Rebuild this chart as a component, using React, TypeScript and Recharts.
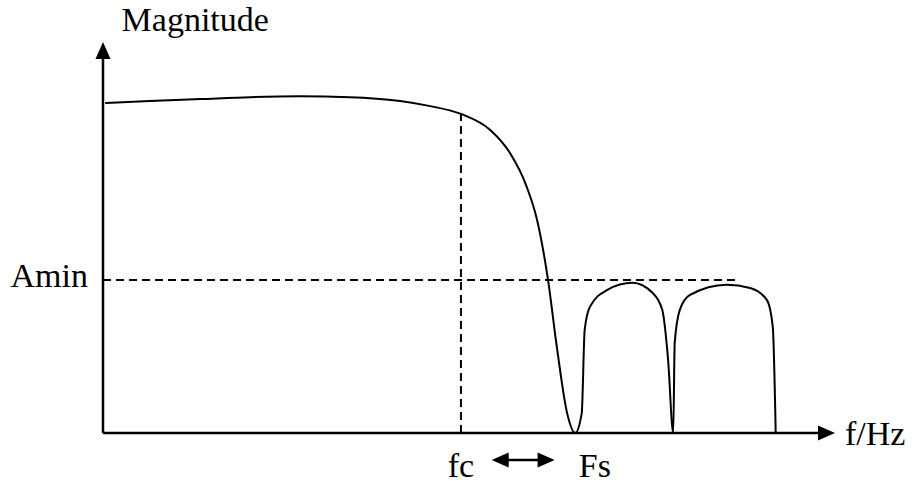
import { ComposedChart, Line, XAxis, YAxis, ReferenceLine, ReferenceDot } from 'recharts';

// frequency (0..100 along the axis) and magnitude (0..100)
const freq = [0.3, 6.4, 13.3, 20.1, 26.9, 33.7, 40.6, 44.7, 48.9, 52.9, 55.6, 57.9, 59.3, 60.8, 62.0, 63.4, 64.5, 65.4, 65.8, 66.5, 68.9, 72.3, 75.1, 76.4, 77.2, 77.9, 78.1, 78.8, 80.2, 85.2, 88.4, 90.7, 91.5, 91.9];
const magnitude = [84.4, 84.9, 85.4, 85.9, 86.1, 85.9, 84.9, 83.6, 81.6, 77.5, 71.6, 62.9, 54.5, 39.1, 22.0, 5.1, 0, 5.1, 26.3, 32.2, 36.6, 38.4, 35.8, 31.5, 18.7, 0, 23.0, 31.5, 35.3, 37.9, 37.1, 34.0, 27.1, 0];

const fc = 48.9;
const fcMag = 81.6;
const fs = 67.2;
const amin = 39.1;
const aminEnd = 86.7;
const bandArrow = [53.1, 61.7];
const bandArrowY = -6.9;

const data = freq.map((f, i) => ({ f, mag: magnitude[i] }));

const font = { fontFamily: '"Liberation Serif", "Times New Roman", serif', fontSize: 34, fill: '#000' };

function head(x: number, y: number, dx: number, dy: number, len: number, half: number) {
  // triangle with tip at (x,y) pointing along (dx,dy)
  const bx = x - dx * len;
  const by = y - dy * len;
  const px = -dy * half;
  const py = dx * half;
  return `${x},${y} ${bx + px},${by + py} ${bx - px},${by - py}`;
}

function ArrowLine(props: any) {
  const { x1, y1, x2, y2, both } = props;
  const L = Math.hypot(x2 - x1, y2 - y1) || 1;
  const dx = (x2 - x1) / L;
  const dy = (y2 - y1) / L;
  const len = 17;
  return (
    <g>
      <line
        x1={both ? x1 + dx * len * 0.8 : x1}
        y1={both ? y1 + dy * len * 0.8 : y1}
        x2={x2 - dx * len * 0.8}
        y2={y2 - dy * len * 0.8}
        stroke="#000"
        strokeWidth={2.5}
      />
      <polygon points={head(x2, y2, dx, dy, len, 7.5)} fill="#000" />
      {both && <polygon points={head(x1, y1, -dx, -dy, len, 7.5)} fill="#000" />}
    </g>
  );
}

export default function App() {
  return (
    <div style={{ position: 'absolute', left: 0, top: 0, background: '#fff' }}>
      <ComposedChart width={913} height={485} data={data} margin={{ top: 42, right: 78, bottom: 52, left: 103 }}>
        <XAxis dataKey="f" type="number" domain={[0, 100]} hide />
        <YAxis type="number" domain={[0, 100]} hide />
        <ReferenceLine
          segment={[{ x: 0, y: amin }, { x: aminEnd, y: amin }]}
          stroke="#000"
          strokeWidth={2}
          strokeDasharray="8 5"
        />
        <ReferenceLine
          segment={[{ x: fc, y: 0 }, { x: fc, y: fcMag }]}
          stroke="#000"
          strokeWidth={2}
          strokeDasharray="8 5"
          label={{ value: 'fc', position: 'bottom', offset: 20, ...font }}
        />
        <ReferenceLine
          segment={[{ x: 0, y: 0 }, { x: 100, y: 0 }]}
          shape={(p: any) => <ArrowLine {...p} />}
          label={{ value: 'f/Hz', position: 'right', offset: 10, ...font }}
        />
        <ReferenceLine
          segment={[{ x: 0, y: 0 }, { x: 0, y: 100 }]}
          shape={(p: any) => <ArrowLine {...p} />}
        />
        <ReferenceLine
          segment={[{ x: bandArrow[0], y: bandArrowY }, { x: bandArrow[1], y: bandArrowY }]}
          ifOverflow="visible"
          shape={(p: any) => <ArrowLine {...p} both />}
        />
        <ReferenceDot x={fs} y={0} r={0} fill="none" stroke="none" label={{ value: 'Fs', position: 'bottom', offset: 20, ...font }} />
        <ReferenceDot x={0} y={40.3} r={0} fill="none" stroke="none" label={{ value: 'Amin', position: 'left', offset: 15, ...font }} />
        <ReferenceDot x={12.6} y={100} r={0} fill="none" stroke="none" label={{ value: 'Magnitude', position: 'top', offset: 11, ...font }} />
        <Line dataKey="mag" type="monotone" stroke="#000" strokeWidth={2} dot={false} isAnimationActive={false} />
      </ComposedChart>
    </div>
  );
}
